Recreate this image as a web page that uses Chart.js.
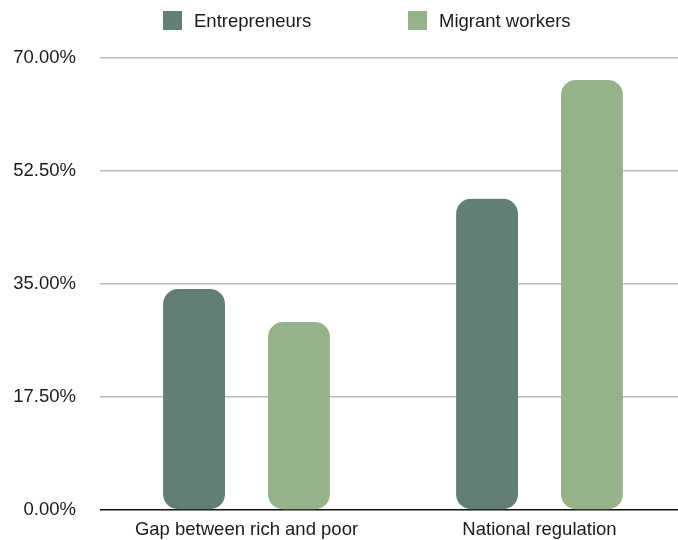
<!DOCTYPE html>
<html>
<head>
<meta charset="utf-8">
<title>Entrepreneurs vs migrant workers</title>
<script src="https://cdn.jsdelivr.net/npm/chart.js@4/dist/chart.umd.min.js"></script>
<style>
  html, body { margin: 0; padding: 0; background: #fff; overflow: hidden; }
  /* plot runs a little past the right and bottom edges of the window */
  #wrap { width: 686px; height: 545px; }
</style>
</head>
<body>
<div id="wrap"><canvas id="chart"></canvas></div>
<script>
const categories = ['Gap between rich and poor', 'National regulation'];
const entrepreneurs = [34.2, 48.2];
const migrantWorkers = [29.1, 66.6];
const yTicks = [0, 17.5, 35, 52.5, 70];

const FONT = '"Liberation Sans", Arial, Helvetica, sans-serif';
const TEXT = '#1a1a1a';

// legend row drawn by hand so the two items can sit far apart
const legendRow = {
  id: 'legendRow',
  afterDraw(chart, args, opts) {
    const {ctx} = chart;
    ctx.save();
    ctx.font = '18.5px ' + FONT;
    ctx.textBaseline = 'middle';
    chart.data.datasets.forEach((ds, i) => {
      const x = opts.xs[i];
      ctx.fillStyle = ds.backgroundColor;
      ctx.fillRect(x, 11, 19, 19);
      ctx.fillStyle = TEXT;
      ctx.fillText(ds.label, x + 31, 22);
    });
    ctx.restore();
  }
};

new Chart(document.getElementById('chart'), {
  type: 'bar',
  data: {
    labels: categories,
    datasets: [
      {
        label: 'Entrepreneurs',
        data: entrepreneurs,
        backgroundColor: '#637e77',
        borderRadius: 15,
        borderSkipped: false
      },
      {
        label: 'Migrant workers',
        data: migrantWorkers,
        backgroundColor: '#97b28b',
        borderRadius: 15,
        borderSkipped: false
      }
    ]
  },
  options: {
    responsive: true,
    maintainAspectRatio: false,
    animation: false,
    layout: { padding: { top: 58, left: 8, right: 0, bottom: 0 } },
    datasets: {
      bar: { categoryPercentage: 0.716, barPercentage: 0.59 }
    },
    scales: {
      x: {
        afterFit: (scale) => { scale.height = 30; },
        grid: { display: false, drawTicks: false },
        border: { display: false },
        ticks: {
          color: TEXT,
          padding: 9,
          font: { family: FONT, size: 18.5 }
        }
      },
      y: {
        min: 0,
        max: 70,
        afterFit: (scale) => { scale.width = 92; },
        afterBuildTicks: (scale) => {
          scale.ticks = yTicks.map(v => ({value: v}));
        },
        border: { display: false },
        grid: {
          drawTicks: false,
          lineWidth: 1.5,
          color: (c) => (c.tick && c.tick.value === 0 ? '#111111' : '#bcbcbc')
        },
        ticks: {
          color: TEXT,
          padding: 24,
          font: { family: FONT, size: 18.5 },
          callback: (v) => Number(v).toFixed(2) + '%'
        }
      }
    },
    plugins: {
      legend: { display: false },
      tooltip: { enabled: false },
      legendRow: { xs: [163, 408] }
    }
  },
  plugins: [legendRow]
});
</script>
</body>
</html>
